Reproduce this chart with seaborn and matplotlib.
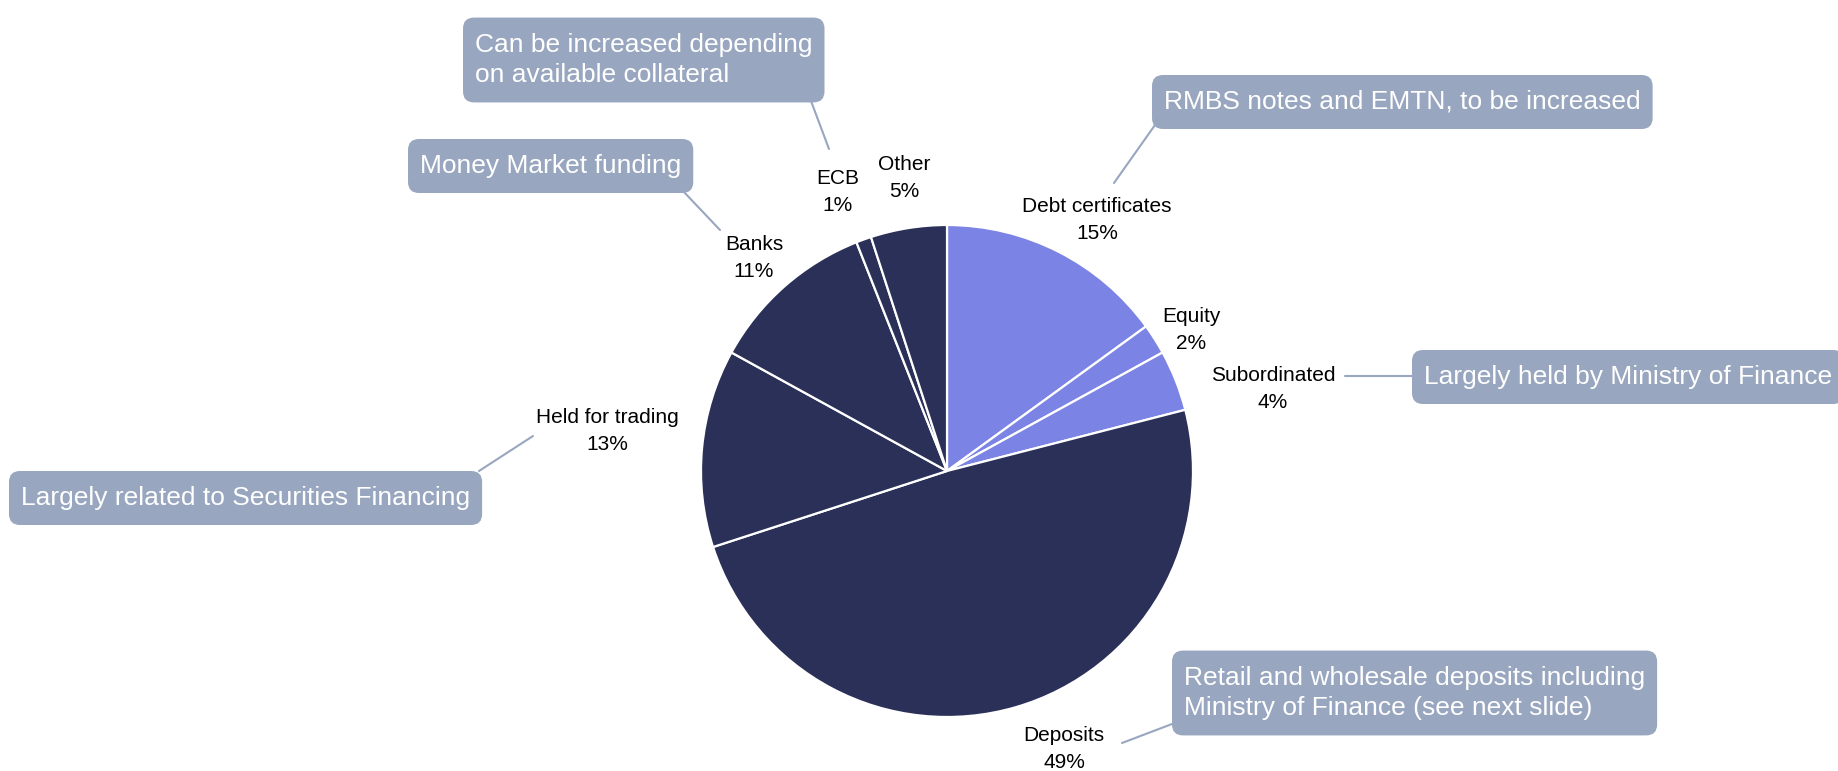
import matplotlib
matplotlib.use("Agg")
import matplotlib.pyplot as plt
from matplotlib.patches import FancyBboxPatch
import seaborn as sns

# Funding mix, clockwise from the top
categories = ["Debt certificates", "Equity", "Subordinated", "Deposits",
              "Held for trading", "Banks", "ECB", "Other"]
shares = [15, 2, 4, 49, 13, 11, 1, 5]

# Callout notes attached to individual funding sources
note_categories = ["ECB", "Banks", "Debt certificates", "Subordinated",
                   "Held for trading", "Deposits"]
note_texts = [
    "Can be increased depending\non available collateral",
    "Money Market funding",
    "RMBS notes and EMTN, to be increased",
    "Largely held by Ministry of Finance",
    "Largely related to Securities Financing",
    "Retail and wholesale deposits including\nMinistry of Finance (see next slide)",
]

sns.set_theme(style="white")
plt.rcParams["font.family"] = ["Liberation Sans", "DejaVu Sans"]

W, H = 1838, 771
light, dark = "#7B83E4", "#2A3058"
box_color = "#98A6BF"
palette = sns.color_palette([light] * 3 + [dark] * 5)

fig = plt.figure(figsize=(W / 100, H / 100), dpi=100)
ax = fig.add_axes([0, 0, 1, 1])


def fy(y):
    """Convert a top-down pixel row into the axes' bottom-up coordinate."""
    return H - y


ax.pie(shares, colors=palette, startangle=90, counterclock=False,
       center=(947, fy(471)), radius=246, frame=True,
       wedgeprops=dict(edgecolor="white", linewidth=1.6))

ax.set_xlim(0, W)
ax.set_ylim(0, H)
ax.set_aspect("equal")
ax.axis("off")

# Category labels (centre of the two-line label block)
label_pos = {
    "Debt certificates": (1097, 220),
    "Equity": (1191, 330),
    "Subordinated": (1273, 389),
    "Deposits": (1064, 749),
    "Held for trading": (607, 431),
    "Banks": (754, 258),
    "ECB": (838, 192),
    "Other": (904, 178),
}
for name, val in zip(categories, shares):
    x, y = label_pos[name]
    ax.text(x, fy(y), f"{name}\n{val}%", ha="center", va="center",
            fontsize=15, color="black", linespacing=1.5)

# Callout boxes: text anchor (left, centre) and leader line end points
note_layout = {
    "ECB": ((475, 60), [(811, 101), (829, 149)]),
    "Banks": ((420, 166), [(683, 191), (720, 230)]),
    "Debt certificates": ((1164, 102), [(1155, 125), (1114, 183)]),
    "Subordinated": ((1424, 377), [(1345, 376), (1412, 376)]),
    "Held for trading": ((21, 498), [(479, 471), (533, 436)]),
    "Deposits": ((1184, 693), [(1172, 724), (1122, 743)]),
}
note_artists = []
for name, txt in zip(note_categories, note_texts):
    (tx, ty), line = note_layout[name]
    xs = [p[0] for p in line]
    ys = [fy(p[1]) for p in line]
    ax.plot(xs, ys, color=box_color, linewidth=1.5, zorder=1)
    t = ax.text(tx, fy(ty), txt, ha="left", va="center", fontsize=19,
                color="white", linespacing=1.36, zorder=4)
    note_artists.append(t)

# Rounded boxes sized around each note's rendered extent
fig.canvas.draw()
renderer = fig.canvas.get_renderer()
inv = ax.transData.inverted()
pad_x, pad_y = 12, 15
for t in note_artists:
    bb = t.get_window_extent(renderer).transformed(inv)
    ax.add_patch(FancyBboxPatch(
        (bb.x0 - pad_x, bb.y0 - pad_y), bb.width + 2 * pad_x,
        bb.height + 2 * pad_y,
        boxstyle="round,pad=0,rounding_size=11",
        facecolor=box_color, edgecolor="none", zorder=3, clip_on=False))

fig.savefig("out.png", dpi=100, facecolor="white")
